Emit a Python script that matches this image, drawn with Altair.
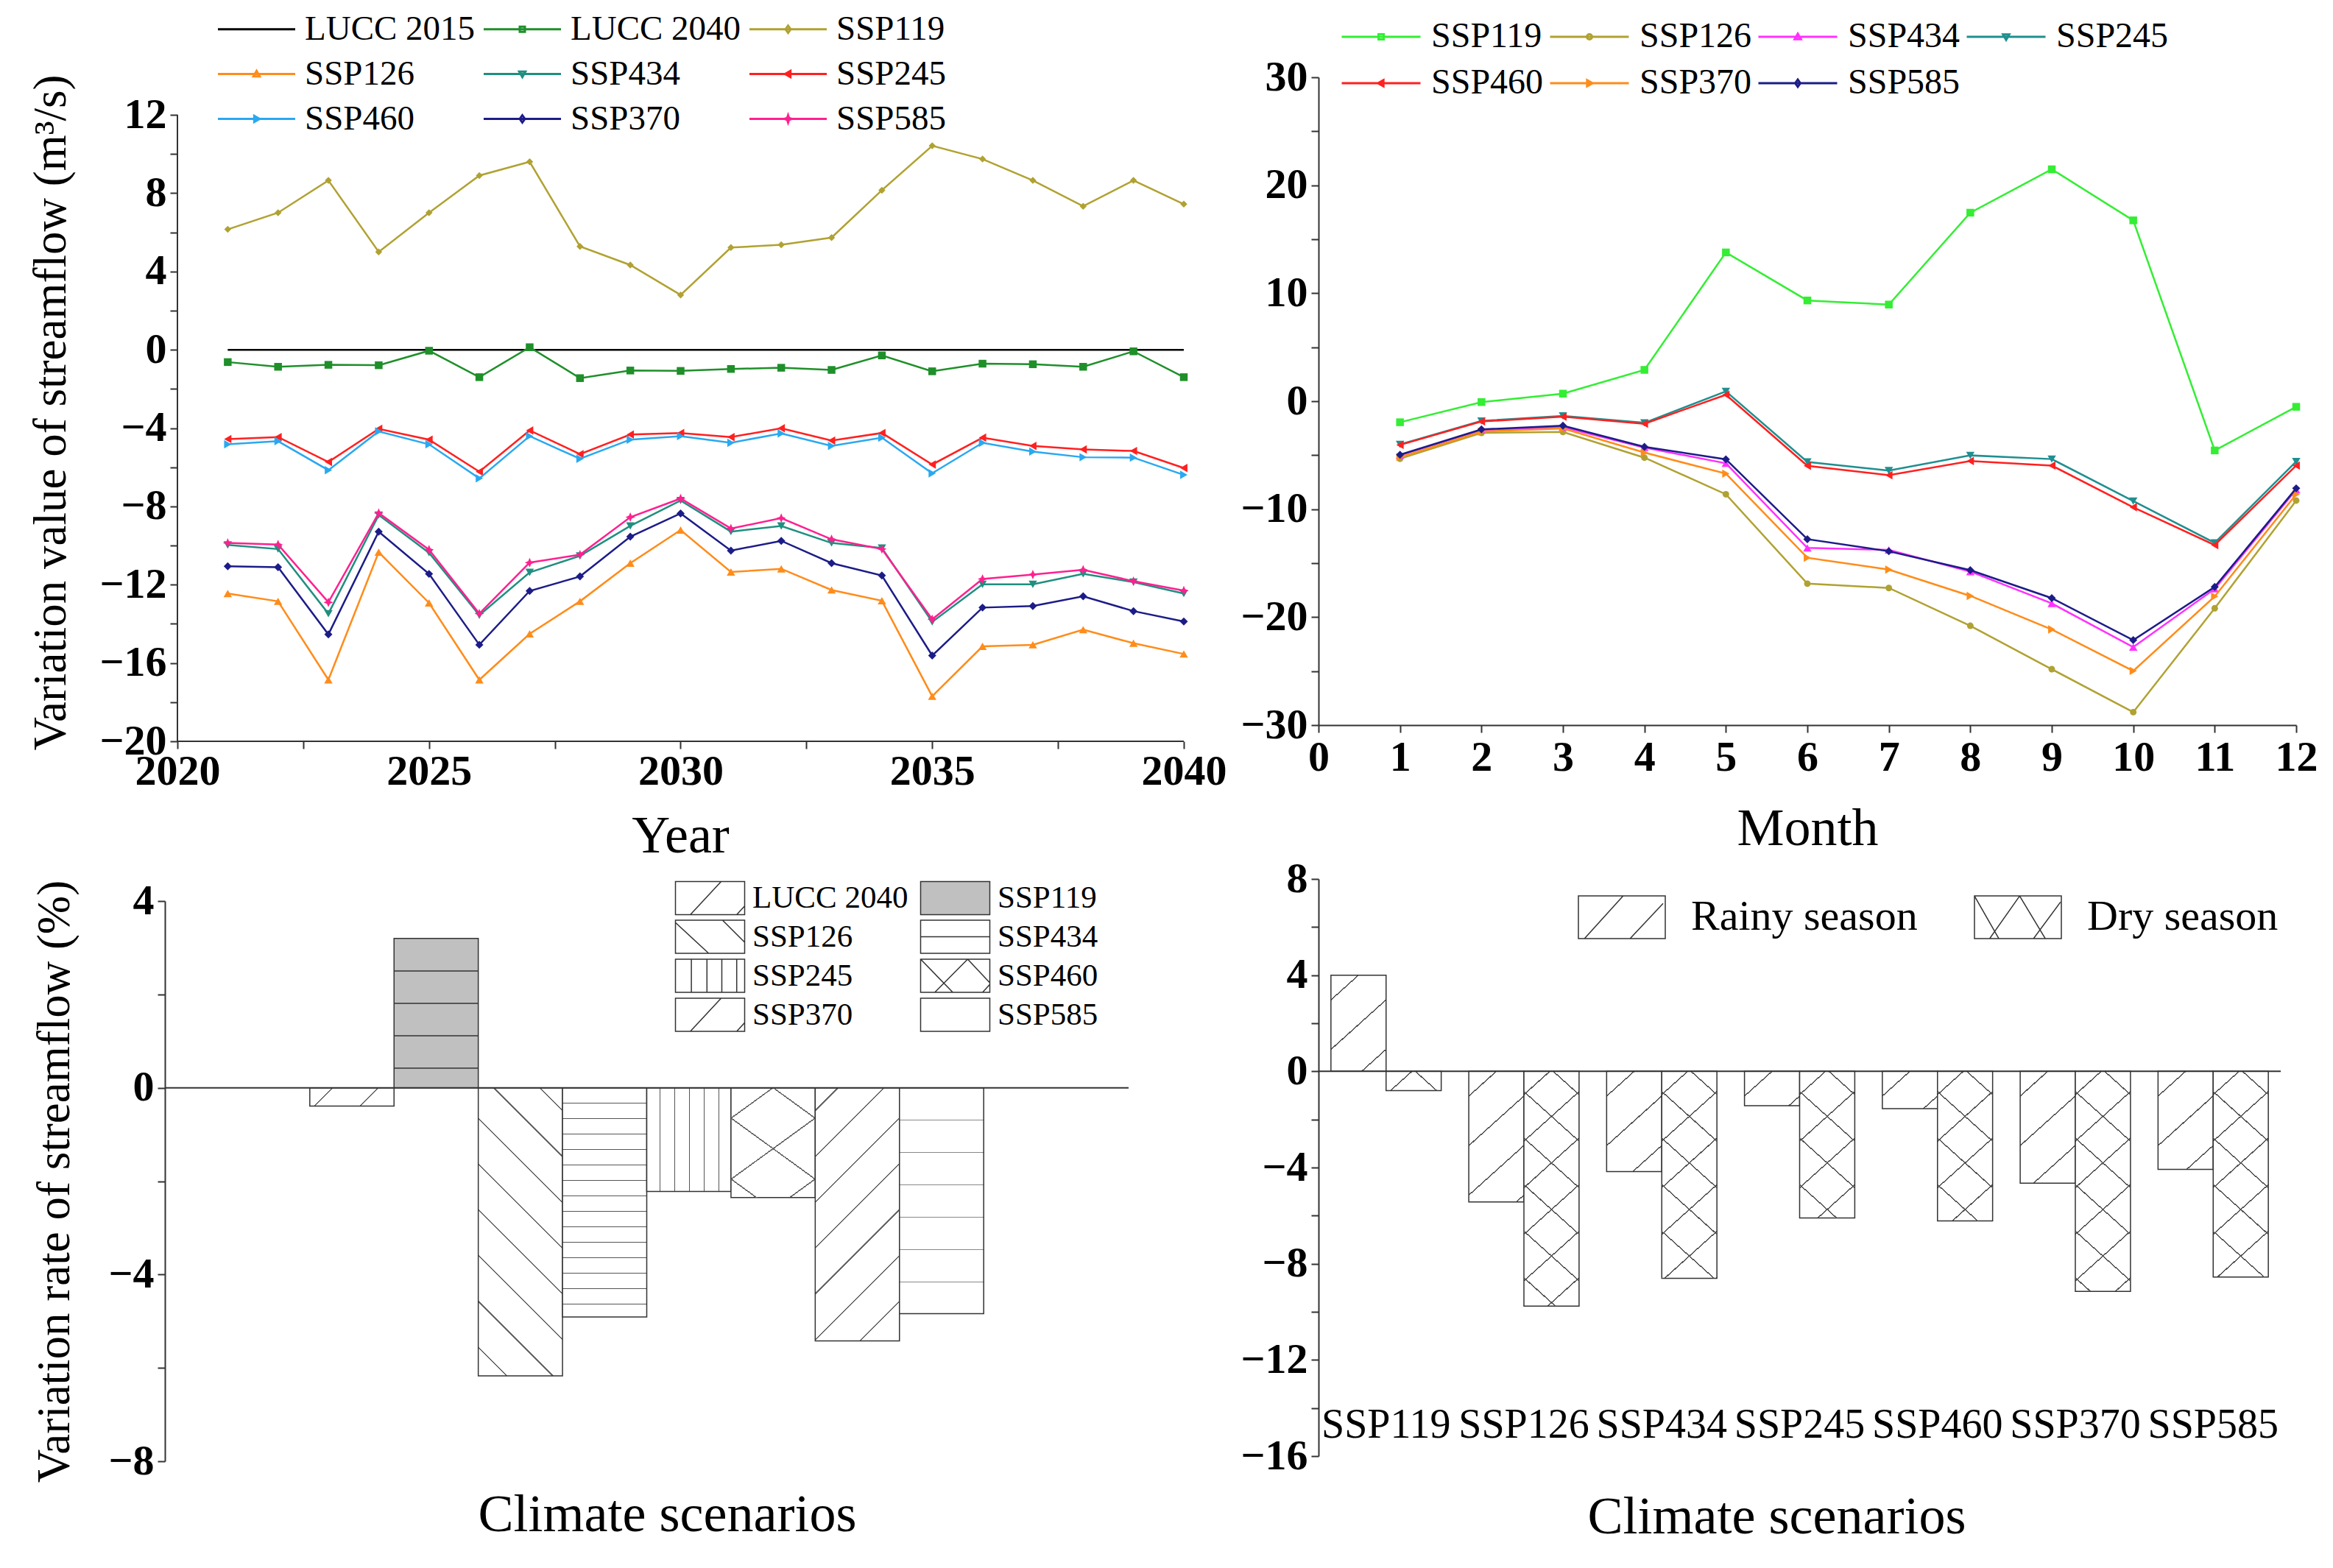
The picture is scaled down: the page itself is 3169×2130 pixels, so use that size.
import math
import altair as alt
import pandas as pd

FONT = "Liberation Serif"
AX = "#333333"
TRANSP = "rgba(255,255,255,0)"

# ---------------- data: (a) annual variation of streamflow ----------------
years = list(range(2021, 2041))
a_series = ["LUCC 2015", "LUCC 2040", "SSP119", "SSP126", "SSP434", "SSP245", "SSP460", "SSP370", "SSP585"]
a_lucc2015 = [0.0] * 20
a_lucc2040 = [-0.63, -0.87, -0.77, -0.79, -0.05, -1.40, 0.13, -1.45, -1.06, -1.08,
              -0.98, -0.92, -1.03, -0.29, -1.10, -0.71, -0.74, -0.87, -0.08, -1.40]
a_ssp119 = [6.15, 7.0, 8.65, 5.0, 7.0, 8.9, 9.6, 5.28, 4.33, 2.8,
            5.22, 5.36, 5.73, 8.15, 10.42, 9.74, 8.65, 7.33, 8.65, 7.44]
a_ssp126 = [-12.45, -12.85, -16.86, -10.34, -12.93, -16.86, -14.51, -12.85, -10.9, -9.21,
            -11.35, -11.19, -12.27, -12.82, -17.7, -15.15, -15.07, -14.3, -14.99, -15.54]
a_ssp434 = [-9.97, -10.18, -13.48, -8.44, -10.37, -13.56, -11.37, -10.53, -9.0, -7.7,
            -9.29, -9.0, -9.87, -10.13, -13.9, -11.98, -11.98, -11.45, -11.87, -12.45]
a_ssp245 = [-4.56, -4.46, -5.73, -4.04, -4.59, -6.23, -4.12, -5.33, -4.33, -4.25,
            -4.46, -4.01, -4.64, -4.25, -5.86, -4.49, -4.91, -5.09, -5.17, -6.04]
a_ssp460 = [-4.83, -4.67, -6.15, -4.17, -4.83, -6.57, -4.41, -5.57, -4.59, -4.41,
            -4.75, -4.27, -4.91, -4.49, -6.31, -4.75, -5.2, -5.49, -5.51, -6.39]
a_ssp370 = [-11.06, -11.11, -14.54, -9.29, -11.45, -15.07, -12.32, -11.58, -9.55, -8.36,
            -10.26, -9.76, -10.9, -11.53, -15.62, -13.17, -13.09, -12.59, -13.35, -13.88]
a_ssp585 = [-9.87, -9.95, -12.9, -8.34, -10.21, -13.48, -10.87, -10.47, -8.55, -7.6,
            -9.13, -8.6, -9.68, -10.18, -13.77, -11.71, -11.48, -11.24, -11.82, -12.3]
a_values = [a_lucc2015, a_lucc2040, a_ssp119, a_ssp126, a_ssp434, a_ssp245, a_ssp460, a_ssp370, a_ssp585]
a_colors = ["#000000", "#1f8f2a", "#b0a232", "#ff8c1a", "#1f8f80", "#ff2020", "#2aa8f0", "#1c1c88", "#ff2090"]

# ---------------- data: (b) monthly variation ----------------
months = list(range(1, 13))
b_series = ["SSP119", "SSP126", "SSP434", "SSP245", "SSP460", "SSP370", "SSP585"]
b_ssp119 = [-1.95, -0.08, 0.7, 2.9, 13.78, 9.33, 8.95, 17.46, 21.48, 16.75, -4.56, -0.52]
b_ssp126 = [-5.33, -2.93, -2.85, -5.23, -8.62, -16.9, -17.3, -20.8, -24.82, -28.8, -19.18, -9.2]
b_ssp434 = [-5.0, -2.67, -2.4, -4.29, -5.75, -13.59, -13.77, -15.78, -18.73, -22.78, -17.38, -8.2]
b_ssp245 = [-4.0, -1.83, -1.36, -2.0, 0.91, -5.62, -6.43, -5.02, -5.36, -9.25, -13.12, -5.59]
b_ssp460 = [-4.05, -1.88, -1.44, -2.09, 0.6, -5.98, -6.85, -5.54, -5.96, -9.82, -13.33, -5.96]
b_ssp370 = [-5.17, -2.82, -2.53, -4.76, -6.71, -14.5, -15.6, -18.03, -21.14, -24.98, -18.08, -8.62]
b_ssp585 = [-4.96, -2.61, -2.27, -4.23, -5.38, -12.78, -13.9, -15.65, -18.24, -22.13, -17.2, -8.07]
b_values = [b_ssp119, b_ssp126, b_ssp434, b_ssp245, b_ssp460, b_ssp370, b_ssp585]
b_colors = ["#33ee33", "#b0a232", "#ff30ff", "#1f8f8f", "#ff2020", "#ff8c1a", "#1c1c88"]

# ---------------- data: (c) variation rate by scenario ----------------
c_scen = ["LUCC 2040", "SSP119", "SSP126", "SSP434", "SSP245", "SSP460", "SSP370", "SSP585"]
c_rate = [-0.39, 3.2, -6.17, -4.91, -2.22, -2.35, -5.42, -4.84]

# ---------------- data: (d) rainy / dry season ----------------
d_scen = ["SSP119", "SSP126", "SSP434", "SSP245", "SSP460", "SSP370", "SSP585"]
d_seasons = ["Rainy season", "Dry season"]
d_rainy = [4.0, -5.43, -4.17, -1.43, -1.55, -4.65, -4.08]
d_dry = [-0.8, -9.76, -8.61, -6.10, -6.22, -9.15, -8.55]


# ---------------- helpers ----------------
def axis(**kw):
    d = dict(labelFont=FONT, labelFontSize=58, labelFontWeight="bold", labelColor="#000000",
             titleFont=FONT, titleFontSize=72, titleFontWeight="normal", titleColor="#000000",
             domainColor=AX, domainWidth=2, tickColor=AX, tickWidth=2, tickSize=10,
             grid=False, labelOverlap=False, labelFlush=False, format="d")
    d.update(kw)
    return alt.Axis(**d)


def legend(**kw):
    d = dict(orient="none", direction="horizontal", title=None, labelFont=FONT,
             labelColor="#000000", padding=0, labelLimit=0, symbolSize=1600)
    d.update(kw)
    return alt.Legend(**d)


def hatch(W, H, angle, spacing, color, bg, lw=1.6, phase=0.5):
    """Linear gradient with hard stops that draws parallel hatch lines."""
    th = math.radians(angle)
    nx, ny = math.sin(th), math.cos(th)
    corners = [(0.0, 0.0), (W, 0.0), (0.0, H), (W, H)]
    ps = [nx * x + ny * y for x, y in corners]
    pmin = min(ps)
    Lp = max(ps) - pmin
    cx, cy = corners[ps.index(pmin)]
    den = (nx * W) ** 2 + (ny * H) ** 2
    gx, gy = nx * W * Lp / den, ny * H * Lp / den
    u0, v0 = cx / W, cy / H
    h = lw / 2.0 / Lp
    stops = [{"offset": 0, "color": bg}]
    j = 0
    while True:
        c = (phase + j) * spacing / Lp
        if c - h >= 1:
            break
        a, b = round(max(c - h, 0), 5), round(min(c + h, 1), 5)
        stops += [{"offset": a, "color": bg}, {"offset": a, "color": color},
                  {"offset": b, "color": color}, {"offset": b, "color": bg}]
        j += 1
    stops.append({"offset": 1, "color": bg})
    return {"gradient": "linear", "x1": round(u0, 5), "y1": round(v0, 5),
            "x2": round(u0 + gx, 5), "y2": round(v0 + gy, 5), "stops": stops}


U = 20.0  # px per custom-path unit for legend symbols of size 1600


def line_marker_path(marker, half_len_px):
    L = half_len_px / U
    m = 3.5 / U
    p = f"M{-L:.3f},0H{L:.3f}"
    if marker == "square":
        p += f"M{-m:.3f},{-m:.3f}H{m:.3f}V{m:.3f}H{-m:.3f}Z"
    elif marker == "diamond":
        p += f"M0,{-1.4*m:.3f}L{m:.3f},0L0,{1.4*m:.3f}L{-m:.3f},0Z"
    elif marker == "triangle-up":
        p += f"M0,{-1.2*m:.3f}L{1.2*m:.3f},{0.9*m:.3f}H{-1.2*m:.3f}Z"
    elif marker == "triangle-down":
        p += f"M0,{1.2*m:.3f}L{1.2*m:.3f},{-0.9*m:.3f}H{-1.2*m:.3f}Z"
    elif marker == "triangle-left":
        p += f"M{-1.2*m:.3f},0L{0.9*m:.3f},{-1.2*m:.3f}V{1.2*m:.3f}Z"
    elif marker == "triangle-right":
        p += f"M{1.2*m:.3f},0L{-0.9*m:.3f},{-1.2*m:.3f}V{1.2*m:.3f}Z"
    elif marker == "circle":
        p += f"M{m:.3f},0A{m:.3f},{m:.3f},0,1,1,{-m:.3f},0A{m:.3f},{m:.3f},0,1,1,{m:.3f},0Z"
    elif marker == "star":
        p += (f"M0,{-1.4*m:.3f}L{0.35*m:.3f},{-0.35*m:.3f}L{1.4*m:.3f},0L{0.35*m:.3f},{0.35*m:.3f}"
              f"L0,{1.4*m:.3f}L{-0.35*m:.3f},{0.35*m:.3f}L{-1.4*m:.3f},0L{-0.35*m:.3f},{-0.35*m:.3f}Z")
    return p


def swatch_path(half_w_px, hh_norm, segs):
    k = half_w_px / U
    hw, hh = k, hh_norm * k
    p = f"M{-hw:.3f},{-hh:.3f}H{hw:.3f}V{hh:.3f}H{-hw:.3f}Z"
    for x1, y1, x2, y2 in segs:
        p += f"M{x1*k:.3f},{y1*k:.3f}L{x2*k:.3f},{y2*k:.3f}"
    return p


STAR = "M0,-1L0.3,-0.3L1,0L0.3,0.3L0,1L-0.3,0.3L-1,0L-0.3,-0.3Z"
RESOLVE = dict(x="independent", y="independent", color="independent", shape="independent",
               fill="independent", stroke="independent", xOffset="independent")
RES_LEG = dict(color="independent", shape="independent", fill="independent", stroke="independent")

# ======================= panel (a) =======================
# the view is a little larger than the axes (empty margin on top and left) so that
# it lines up with the neighbouring panels; the axis lines are drawn as rules.
A_W0, A_H0, A_TOP, A_LEFT = 1367, 851, 51, 17
WA, HA = A_W0 + A_LEFT, A_H0 + A_TOP
a_y_top = 12 + A_TOP * 32.0 / A_H0
a_x_left = 2020 - A_LEFT * 20.0 / A_W0
a_df = pd.DataFrame([{"year": y, "series": s, "value": v}
                     for s, vals in zip(a_series, a_values) for y, v in zip(years, vals)])
a_marks = [None, "square", "diamond", "triangle-up", "triangle-down", "triangle-left",
           "triangle-right", "diamond", STAR]
a_msize = [0, 110, 90, 130, 130, 130, 130, 120, 170]
a_legmark = ["none", "square", "diamond", "triangle-up", "triangle-down", "triangle-left",
             "triangle-right", "diamond", "star"]

xa = alt.X("year:Q", scale=alt.Scale(domain=[a_x_left, 2040], nice=False, zero=False),
           axis=axis(values=[2020 + 2.5 * i for i in range(9)], domain=False,
                     labelExpr="datum.value % 5 == 0 ? datum.label : ''",
                     title="Year", labelPadding=2, titlePadding=23, titleX=A_LEFT + 683))
ya = alt.Y("value:Q", scale=alt.Scale(domain=[-20, a_y_top], nice=False, zero=False),
           axis=axis(values=list(range(-20, 13, 2)), domain=False, offset=-A_LEFT,
                     labelExpr="datum.value % 4 == 0 ? datum.label : ''",
                     title="Variation value of streamflow (m³/s)", titleFontSize=63,
                     titleX=-140, titleY=A_TOP + 404, labelPadding=5))

a_layers = []
for s, col, shp, sz in zip(a_series, a_colors, a_marks, a_msize):
    base = alt.Chart(a_df).transform_filter(alt.datum.series == s)
    a_layers.append(base.mark_line(color=col, strokeWidth=2.5).encode(x=xa, y=ya))
    if shp:
        a_layers.append(base.mark_point(shape=shp, filled=True, color=col, size=sz, opacity=1)
                        .encode(x=xa, y=ya))
a_axes = [
    alt.Chart(pd.DataFrame({"v": [0]})).mark_rule(color=AX, strokeWidth=2).encode(
        x=alt.XDatum(2020), x2=alt.X2Datum(2040), y=alt.YDatum(-20)),
    alt.Chart(pd.DataFrame({"v": [0]})).mark_rule(color=AX, strokeWidth=2).encode(
        x=alt.XDatum(2020), y=alt.YDatum(-20), y2=alt.Y2Datum(12)),
]

a_leg = legend(legendX=84 + A_LEFT, legendY=-140 + A_TOP, columns=3, labelFontSize=47, labelOffset=42,
               columnPadding=5, rowPadding=13, symbolStrokeWidth=3)
a_dummy = alt.Chart(pd.DataFrame({"series": a_series})).mark_point(
    filled=False, strokeWidth=3, size=1600, opacity=1, clip=True).encode(
    x=alt.XDatum(2030), y=alt.YDatum(900),
    color=alt.Color("series:N", scale=alt.Scale(domain=a_series, range=a_colors), legend=a_leg),
    shape=alt.Shape("series:N", scale=alt.Scale(domain=a_series,
                    range=[line_marker_path(m, 52.5) for m in a_legmark]), legend=a_leg))
panel_a = alt.layer(*a_layers, *a_axes, a_dummy).properties(width=WA, height=HA)

# ======================= panel (b) =======================
WB, HB = 1328, 880
b_df = pd.DataFrame([{"month": m, "series": s, "value": v}
                     for s, vals in zip(b_series, b_values) for m, v in zip(months, vals)])
b_marks = ["square", "circle", "triangle-up", "triangle-down", "triangle-left", "triangle-right", "diamond"]
b_msize = [110, 80, 130, 130, 130, 130, 120]

xb = alt.X("month:Q", scale=alt.Scale(domain=[0, 12], nice=False, zero=False),
           axis=axis(values=list(range(13)), title="Month",
                     labelPadding=5, titlePadding=32))
yb = alt.Y("value:Q", scale=alt.Scale(domain=[-30, 30], nice=False, zero=False),
           axis=axis(values=list(range(-30, 31, 5)),
                     labelExpr="datum.value % 10 == 0 ? datum.label : ''",
                     title=None, labelPadding=5))
b_layers = []
for s, col, shp, sz in zip(b_series, b_colors, b_marks, b_msize):
    base = alt.Chart(b_df).transform_filter(alt.datum.series == s)
    b_layers.append(base.mark_line(color=col, strokeWidth=2.5).encode(x=xb, y=yb))
    b_layers.append(base.mark_point(shape=shp, filled=True, color=col, size=sz, opacity=1)
                    .encode(x=xb, y=yb))
b_leg = legend(legendX=61, legendY=-79, columns=4, labelFontSize=48, labelOffset=44,
               columnPadding=2, rowPadding=15, symbolStrokeWidth=3)
b_dummy = alt.Chart(pd.DataFrame({"series": b_series})).mark_point(
    filled=False, strokeWidth=3, size=1600, opacity=1, clip=True).encode(
    x=alt.XDatum(6), y=alt.YDatum(900),
    color=alt.Color("series:N", scale=alt.Scale(domain=b_series, range=b_colors), legend=b_leg),
    shape=alt.Shape("series:N", scale=alt.Scale(domain=b_series,
                    range=[line_marker_path(m, 53.5) for m in b_marks]), legend=b_leg))
panel_b = alt.layer(*b_layers, b_dummy).properties(width=WB, height=HB)

# ======================= panel (c) =======================
WC, HC = 1309, 761
PO_C = 0.72
c_domain = ["_pad_left"] + c_scen + ["_pad_right"]   # empty slots either side of the bars
step_c = WC / (len(c_domain) + 2 * PO_C)
c_df = pd.DataFrame({"scen": c_scen, "rate": c_rate})
xc = alt.X("scen:N", scale=alt.Scale(domain=c_domain, paddingInner=0, paddingOuter=PO_C),
           axis=alt.Axis(title="Climate scenarios", labels=False, ticks=False, domain=False,
                         titleFont=FONT, titleFontSize=72, titleFontWeight="normal",
                         titleColor="#000000", titleX=682, titlePadding=37))
yc = alt.Y("rate:Q", scale=alt.Scale(domain=[-8, 4], nice=False, zero=False),
           axis=axis(values=list(range(-8, 5, 2)),
                     labelExpr="datum.value % 4 == 0 ? datum.label : ''",
                     title="Variation rate of streamflow (%)", titleFontSize=63,
                     titleX=-118, labelPadding=5))
c_hatch = {
    "LUCC 2040": ("#ffffff", [(45, 44, "#666666", 0.5)]),
    "SSP119": ("#c0c0c0", [(0, 44, "#555555", 1.0)]),
    "SSP126": ("#ffffff", [(-45, 44, "#666666", 0.5)]),
    "SSP434": ("#ffffff", [(0, 21, "#555555", 1.0)]),
    "SSP245": ("#ffffff", [(90, 20, "#555555", 0.9)]),
    "SSP460": ("#ffffff", [(36, 67, "#666666", 0.5), (-36, 67, "#666666", 0.5)]),
    "SSP370": ("#ffffff", [(45, 44, "#666666", 0.5)]),
    "SSP585": ("#ffffff", [(0, 44, "#888888", 1.0)]),
}
c_layers = []
for s, v in zip(c_scen, c_rate):
    H = abs(v) * HC / 12.0
    bg, fams = c_hatch[s]
    for k, (ang, sp, lc, ph) in enumerate(fams):
        grad = hatch(step_c, H, ang, sp, lc, bg if k == 0 else TRANSP, phase=ph)
        base = alt.Chart(c_df).transform_filter(alt.datum.scen == s)
        if k == 0:
            mk = base.mark_bar(fill=grad, stroke="#333333", strokeWidth=1.5)
        else:
            mk = base.mark_bar(fill=grad, strokeWidth=0)
        c_layers.append(mk.encode(x=xc, y=yc))
c_zero = alt.Chart(pd.DataFrame({"rate": [0]})).mark_rule(color="#333333", strokeWidth=2).encode(y=yc)

c_segs = {
    "LUCC 2040": [(-0.57, 0.48, 0.32, -0.48), (0.77, 0.48, 1.0, 0.23)],
    "SSP119": [],
    "SSP126": [(-1, -0.41, -0.04, 0.48), (0.36, -0.48, 1.0, 0.16)],
    "SSP434": [(-1, 0, 1, 0)],
    "SSP245": [(x, -0.48, x, 0.48) for x in (-0.54, -0.09, 0.34, 0.77)],
    "SSP460": [(-1, -0.48, -0.07, 0.48), (-0.59, 0.48, 0.36, -0.48), (0.36, -0.48, 1.0, 0.2),
               (0.79, 0.48, 1.0, 0.25)],
    "SSP370": [(-0.57, 0.48, 0.32, -0.48), (0.77, 0.48, 1.0, 0.23)],
    "SSP585": [],
}
c_fills = ["#c0c0c0" if s == "SSP119" else "#ffffff" for s in c_scen]
c_leg = legend(legendX=719, legendY=-26, columns=2, labelFontSize=43, labelOffset=36,
               columnPadding=13, rowPadding=0, symbolStrokeWidth=1.5, symbolStrokeColor="#333333")
c_dummy = alt.Chart(pd.DataFrame({"scen": c_scen})).mark_point(
    filled=True, strokeWidth=1.5, size=1600, opacity=1, clip=True).encode(
    x=alt.XDatum("SSP119"), y=alt.YDatum(100),
    fill=alt.Fill("scen:N", scale=alt.Scale(domain=c_scen, range=c_fills), legend=c_leg),
    stroke=alt.Stroke("scen:N", scale=alt.Scale(domain=c_scen, range=["#333333"] * len(c_scen)),
                      legend=c_leg),
    shape=alt.Shape("scen:N", scale=alt.Scale(domain=c_scen,
                    range=[swatch_path(47, 0.48, c_segs[s]) for s in c_scen]), legend=c_leg))
panel_c = alt.layer(*c_layers, c_zero, c_dummy).properties(width=WC, height=HC)

# ======================= panel (d) =======================
WD, HD = 1307, 784
PI_D, PO_D = 0.2, 0.09
step_d = WD / (len(d_scen) - PI_D + 2 * PO_D)
bw_d = step_d * (1 - PI_D) / 2.0
d_df = pd.DataFrame([{"scen": s, "season": se, "rate": v}
                     for s, r, d in zip(d_scen, d_rainy, d_dry)
                     for se, v in zip(d_seasons, (r, d))])
xd = alt.X("scen:N", scale=alt.Scale(domain=d_scen, paddingInner=PI_D, paddingOuter=PO_D),
           axis=alt.Axis(title="Climate scenarios", domain=False, ticks=False, labelAngle=0,
                         labelFont=FONT, labelFontSize=56, labelFontWeight="normal",
                         labelColor="#000000", labelPadding=0, offset=-70, labelOverlap=False,
                         labelLimit=0,
                         titleFont=FONT, titleFontSize=72, titleFontWeight="normal",
                         titleColor="#000000", titlePadding=62, titleX=622))
xo = alt.XOffset("season:N", scale=alt.Scale(domain=d_seasons, paddingInner=0, paddingOuter=0))
yd = alt.Y("rate:Q", scale=alt.Scale(domain=[-16, 8], nice=False, zero=False),
           axis=axis(values=list(range(-16, 9, 2)),
                     labelExpr="datum.value % 4 == 0 ? datum.label : ''",
                     title=None, labelPadding=5))
d_hatch = {"Rainy season": [(42, 50, 0.5)], "Dry season": [(42, 47, 0.5), (-42, 47, 0.5)]}
d_layers = []
for s, r, d in zip(d_scen, d_rainy, d_dry):
    for se, v in zip(d_seasons, (r, d)):
        H = abs(v) * HD / 24.0
        for k, (ang, sp, ph) in enumerate(d_hatch[se]):
            grad = hatch(bw_d, H, ang, sp, "#555555", "#ffffff" if k == 0 else TRANSP, lw=1.5, phase=ph)
            base = alt.Chart(d_df).transform_filter(
                (alt.datum.scen == s) & (alt.datum.season == se))
            if k == 0:
                mk = base.mark_bar(fill=grad, stroke="#333333", strokeWidth=1.5)
            else:
                mk = base.mark_bar(fill=grad, strokeWidth=0)
            d_layers.append(mk.encode(x=xd, xOffset=xo, y=yd))
d_zero = alt.Chart(pd.DataFrame({"rate": [0]})).mark_rule(color="#333333", strokeWidth=2).encode(y=yd)
d_segs = {
    "Rainy season": [(-0.86, 0.49, 0.03, -0.49), (0.19, 0.49, 0.95, -0.32)],
    "Dry season": [(-1, -0.49, -0.44, 0.49), (-0.65, 0.49, 0.04, -0.49), (0.04, -0.49, 0.63, 0.49),
                   (0.36, 0.49, 0.98, -0.35)],
}
d_leg = legend(legendX=383, legendY=23, columns=2, labelFontSize=58, labelOffset=65,
               columnPadding=74, rowPadding=6, symbolStrokeWidth=1.5, symbolStrokeColor="#333333")
d_dummy = alt.Chart(pd.DataFrame({"season": d_seasons})).mark_point(
    filled=True, strokeWidth=1.5, size=1600, opacity=1, clip=True).encode(
    x=alt.XDatum("SSP119"), y=alt.YDatum(100),
    fill=alt.Fill("season:N", scale=alt.Scale(domain=d_seasons, range=["#ffffff", "#ffffff"]), legend=d_leg),
    stroke=alt.Stroke("season:N", scale=alt.Scale(domain=d_seasons, range=["#333333", "#333333"]),
                      legend=d_leg),
    shape=alt.Shape("season:N", scale=alt.Scale(domain=d_seasons,
                    range=[swatch_path(59, 0.49, d_segs[s]) for s in d_seasons]), legend=d_leg))
panel_d = alt.layer(*d_layers, d_zero, d_dummy).properties(width=WD, height=HD)

# ======================= layout =======================
col1 = alt.concat(panel_a, panel_c, columns=1, spacing=24).resolve_scale(
    **RESOLVE).resolve_legend(**RES_LEG)
col2 = alt.concat(panel_b, panel_d, columns=1, spacing=4).resolve_scale(
    **RESOLVE).resolve_legend(**RES_LEG)
chart = (alt.concat(col1, col2, columns=2, spacing=18)
         .resolve_scale(**RESOLVE)
         .resolve_legend(**RES_LEG)
         .properties(padding={"left": 29, "top": 8, "right": 5, "bottom": 5})
         .configure(font=FONT)
         .configure_view(stroke=None))

chart.save("out.html", embed_options={"renderer": "svg", "actions": False})
